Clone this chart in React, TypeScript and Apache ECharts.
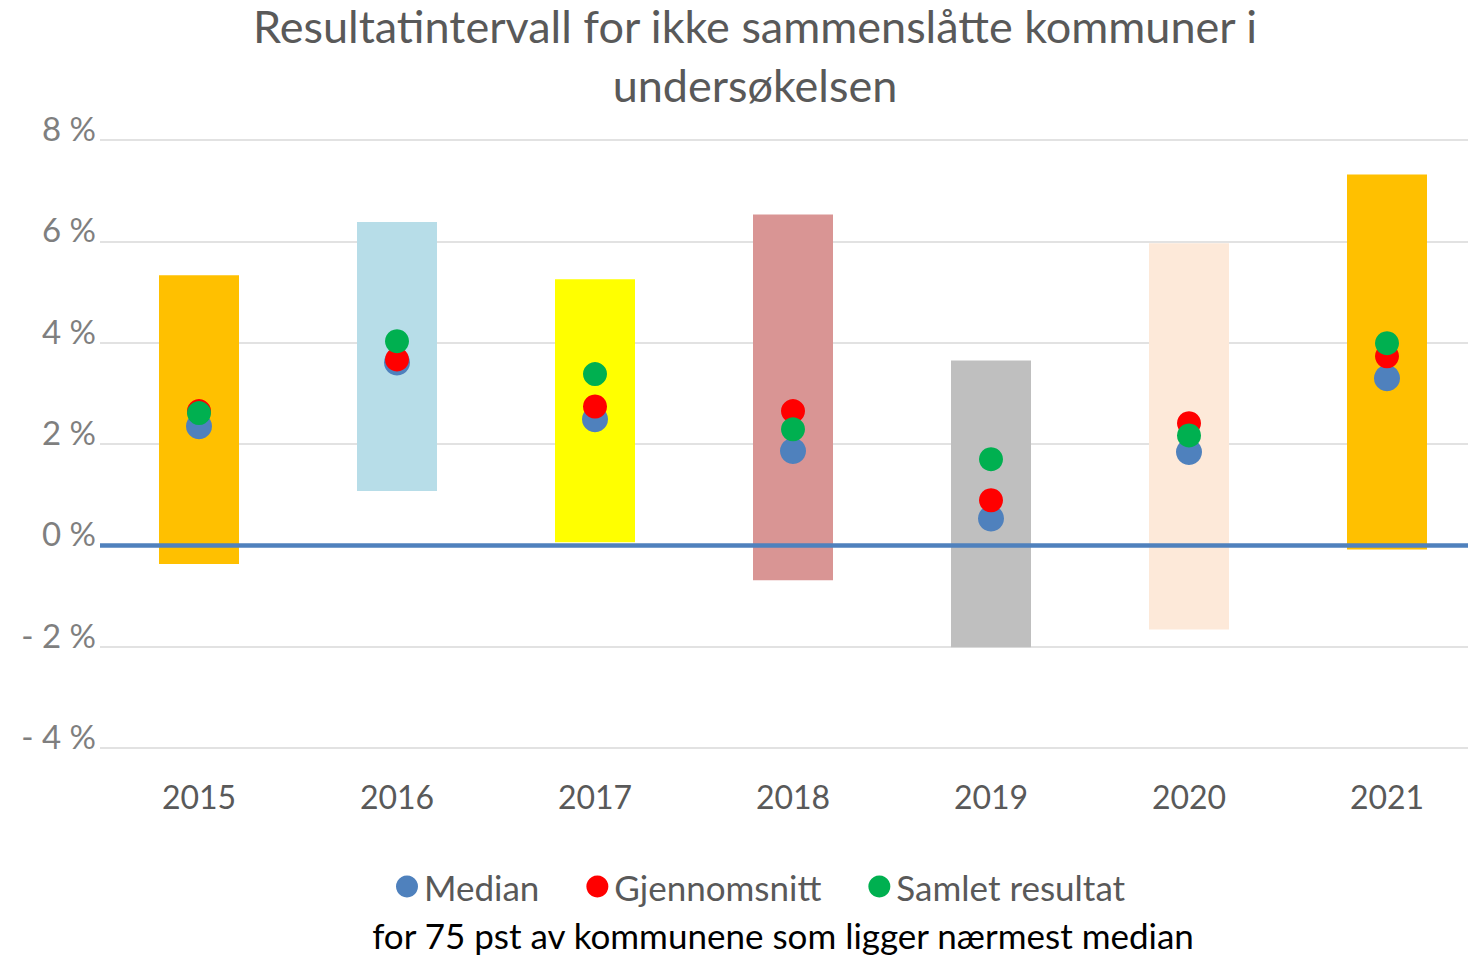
import React, { useEffect, useRef } from "react";
import * as echarts from "echarts";

const years = ["2015", "2016", "2017", "2018", "2019", "2020", "2021"];
const rangeLow = [-0.37, 1.07, 0.06, -0.69, -2.01, -1.66, -0.08];
const rangeHigh = [5.33, 6.38, 5.25, 6.53, 3.65, 5.96, 7.32];
const barColors = ["#FFC000", "#B7DDE8", "#FFFF00", "#D99594", "#BFBFBF", "#FDE9D9", "#FFC000"];
const median = [2.35, 3.61, 2.49, 1.86, 0.53, 1.84, 3.3];
const gjennomsnitt = [2.65, 3.67, 2.74, 2.65, 0.89, 2.41, 3.73];
const samlet = [2.61, 4.03, 3.38, 2.29, 1.7, 2.17, 3.99];

const FONT = "Lato";

export default function App() {
  const ref = useRef<HTMLDivElement>(null);
  useEffect(() => {
    if (!ref.current) return;
    const chart = echarts.init(ref.current, undefined, { renderer: "svg" });
    chart.setOption({
      animation: false,
      backgroundColor: "#ffffff",
      textStyle: { fontFamily: FONT },
      title: [
        {
          text: "Resultatintervall for ikke sammenslåtte kommuner i\nundersøkelsen",
          left: 750,
          textAlign: "center",
          top: -9,
          textStyle: { fontFamily: FONT, fontSize: 45, fontWeight: "normal", color: "#595959", lineHeight: 59 },
        },
        {
          text: "for 75 pst av kommunene som ligger nærmest median",
          left: 778,
          textAlign: "center",
          top: 912,
          textStyle: { fontFamily: FONT, fontSize: 35, fontWeight: "normal", color: "#000000" },
        },
      ],
      legend: {
        data: ["Median", "Gjennomsnitt", "Samlet resultat"],
        left: 391,
        top: 864,
        icon: "circle",
        itemWidth: 22,
        itemHeight: 22,
        itemGap: 47,
        textStyle: { fontFamily: FONT, fontSize: 35, color: "#595959", padding: [0, 0, 0, 1] },
      },
      grid: { left: 100, top: 140, right: 0, bottom: 209, containLabel: false },
      xAxis: {
        type: "category",
        data: years,
        axisLine: { show: false, onZero: false },
        axisTick: { show: false },
        axisLabel: { fontFamily: FONT, fontSize: 32, color: "#595959", margin: 32 },
      },
      yAxis: {
        type: "value",
        min: -4,
        max: 8,
        interval: 2,
        axisLine: { show: false },
        axisTick: { show: false },
        splitLine: { lineStyle: { color: "#D9D9D9", width: 1.5 } },
        axisLabel: {
          fontFamily: FONT,
          fontSize: 33,
          color: "#7F7F7F",
          margin: 4,
          verticalAlign: "bottom",
          lineHeight: 24,
          formatter: (v: number) => (v < 0 ? "- " + Math.abs(v) + " %" : v + " %"),
        },
      },
      series: [
        {
          type: "bar",
          stack: "range",
          stackStrategy: "all",
          barWidth: 80,
          itemStyle: { color: "transparent" },
          silent: true,
          data: rangeLow,
          z: 1,
        },
        {
          type: "bar",
          stack: "range",
          stackStrategy: "all",
          barWidth: 80,
          data: rangeHigh.map((h, i) => ({
            value: +(h - rangeLow[i]).toFixed(3),
            itemStyle: { color: barColors[i] },
          })),
          z: 2,
        },
        {
          name: "Median",
          type: "scatter",
          data: median,
          symbolSize: 26,
          itemStyle: { color: "#4F81BD", opacity: 1 },
          z: 6,
          markLine: {
            silent: true,
            symbol: ["none", "none"],
            label: { show: false },
            lineStyle: {
              color: "#4F81BD",
              width: 4.5,
              type: "solid",
              opacity: 1,
            },
            data: [{ yAxis: 0 }],
          },
        },
        {
          name: "Gjennomsnitt",
          type: "scatter",
          data: gjennomsnitt,
          symbolSize: 24,
          itemStyle: { color: "#FF0000", opacity: 1 },
          z: 7,
        },
        {
          name: "Samlet resultat",
          type: "scatter",
          data: samlet,
          symbolSize: 24,
          itemStyle: { color: "#00B050", opacity: 1 },
          z: 8,
        },
      ],
    });
    return () => chart.dispose();
  }, []);
  return (
    <div style={{ width: 1468, height: 957, position: "absolute", left: 0, top: 0, overflow: "hidden" }}>
      <div ref={ref} style={{ width: 1486, height: 957 }} />
    </div>
  );
}
